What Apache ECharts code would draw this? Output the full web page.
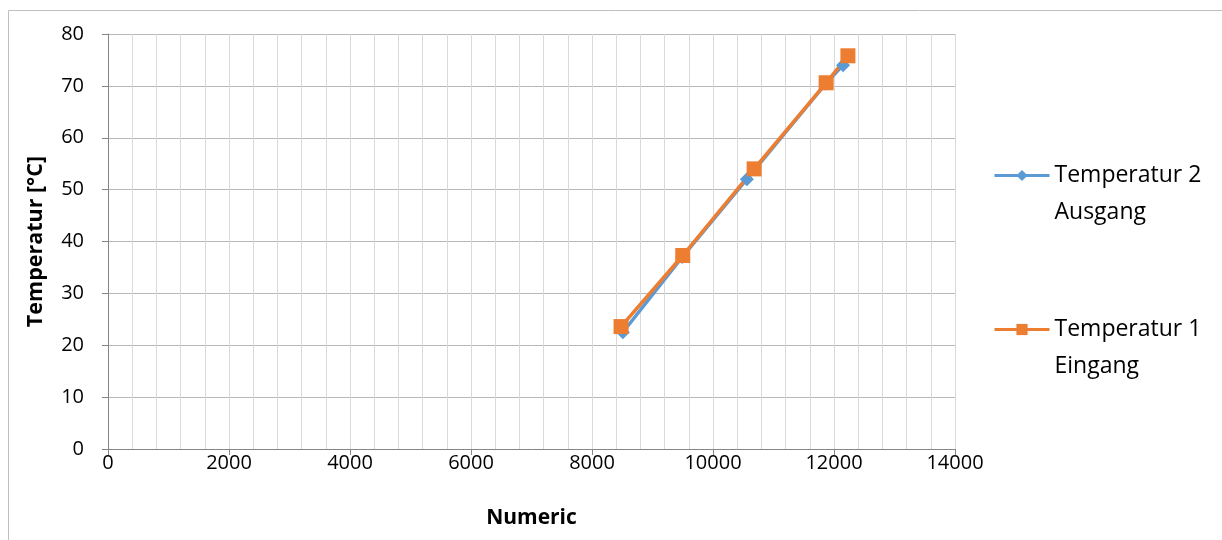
<!DOCTYPE html>
<html><head><meta charset="utf-8">
<script src="https://cdn.jsdelivr.net/npm/echarts@6/dist/echarts.min.js"></script>
<style>html,body{margin:0;padding:0;background:#fff}#c{width:1222px;height:540px}</style>
</head><body><div id="c"></div>
<script>
const seriesNames = ['Temperatur 2 Ausgang', 'Temperatur 1 Eingang'];
const legendLines = [['Temperatur 2', 'Ausgang'], ['Temperatur 1', 'Eingang']];
const x2 = [8510, 9490, 10560, 11860, 12150];
const y2 = [22.5, 37.0, 52.0, 70.4, 74.0];
const x1 = [8480, 9500, 10680, 11870, 12230];
const y1 = [23.6, 37.3, 54.0, 70.6, 75.8];
const xTicks = [0, 2000, 4000, 6000, 8000, 10000, 12000, 14000];
const yTicks = [0, 10, 20, 30, 40, 50, 60, 70, 80];
const xTitle = 'Numeric';
const yTitle = 'Temperatur [°C]';

const FONT = '"Open Sans", sans-serif';
const chart = echarts.init(document.getElementById('c'), null, {renderer: 'canvas'});
const pairs = (xs, ys) => xs.map((v, i) => [v, ys[i]]);
chart.setOption({
  animation: false,
  textStyle: {fontFamily: FONT},
  graphic: [{type: 'rect', shape: {x: 8.5, y: 10.5, width: 1230, height: 540},
    style: {fill: 'none', stroke: '#bfbfbf', lineWidth: 1}}],
  grid: {left: 108, right: 267, top: 34, bottom: 91},
  legend: {
    orient: 'vertical', left: 993, top: 120, padding: 0, itemGap: 43, itemWidth: 55, itemHeight: 14,
    data: seriesNames,
    formatter: n => '\n' + legendLines[seriesNames.indexOf(n)].join('\n'),
    lineStyle: {width: 3},
    textStyle: {fontSize: 23, lineHeight: 37, color: '#000', fontFamily: FONT}
  },
  xAxis: {
    type: 'value', min: xTicks[0], max: xTicks[xTicks.length - 1], interval: 2000,
    name: xTitle, nameLocation: 'middle', nameGap: 59,
    nameTextStyle: {fontSize: 21, fontWeight: 'bold', color: '#000', fontFamily: FONT},
    axisLine: {show: true, lineStyle: {color: '#868686', width: 1}},
    axisTick: {show: true, length: 6, lineStyle: {color: '#868686'}},
    axisLabel: {fontSize: 20, color: '#000', margin: 4, fontFamily: FONT, formatter: v => String(v)},
    splitLine: {show: true, lineStyle: {color: '#d9d9d9', width: 1}},
    minorTick: {show: false, splitNumber: 5},
    minorSplitLine: {show: true, lineStyle: {color: '#d9d9d9', width: 1}}
  },
  yAxis: {
    type: 'value', min: yTicks[0], max: yTicks[yTicks.length - 1], interval: 10,
    name: yTitle, nameLocation: 'middle', nameGap: 61,
    nameTextStyle: {fontSize: 21.5, fontWeight: 'bold', color: '#000', fontFamily: FONT},
    axisLine: {show: true, lineStyle: {color: '#868686', width: 1}},
    axisTick: {show: true, length: 6, lineStyle: {color: '#868686'}},
    axisLabel: {fontSize: 20, color: '#000', margin: 24, fontFamily: FONT},
    splitLine: {show: true, lineStyle: {color: '#b8b8b8', width: 1}}
  },
  series: [
    {name: seriesNames[0], type: 'line', data: pairs(x2, y2), symbol: 'diamond', symbolSize: 14,
      color: '#5B9BD5', lineStyle: {width: 3.5, color: '#5B9BD5'}, itemStyle: {color: '#5B9BD5'}},
    {name: seriesNames[1], type: 'line', data: pairs(x1, y1), symbol: 'rect', symbolSize: 15,
      color: '#ED7D31', lineStyle: {width: 3.5, color: '#ED7D31'}, itemStyle: {color: '#ED7D31'}}
  ]
});
</script></body></html>
